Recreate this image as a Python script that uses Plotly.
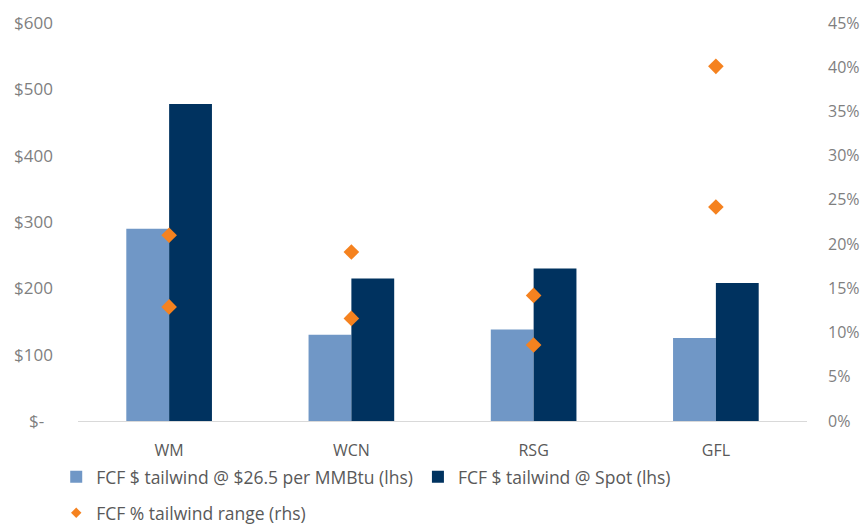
import plotly.graph_objects as go

categories = ["WM", "WCN", "RSG", "GFL"]
fcf_265 = [290, 130, 138, 125]
fcf_spot = [478, 215, 230, 208]
pct_x = ["WM", "WM", "WCN", "WCN", "RSG", "RSG", "GFL", "GFL"]
pct_vals = [21.0, 12.9, 19.1, 11.6, 14.2, 8.6, 40.1, 24.2]

left_tickvals = [0, 100, 200, 300, 400, 500, 600]
left_ticktext = ["$-\u00a0\u00a0", "$100", "$200", "$300", "$400", "$500", "$600"]
right_tickvals = [0, 5, 10, 15, 20, 25, 30, 35, 40, 45]
right_ticktext = [f"{v}%" for v in right_tickvals]

FONT = "Open Sans"
TICK_COLOR = "#7f7f7f"
TEXT_COLOR = "#595959"
ORANGE = "#f5821f"

fig = go.Figure()
fig.add_trace(go.Bar(
    x=categories, y=fcf_265, name="FCF $ tailwind @ $26.5 per MMBtu (lhs)",
    marker=dict(color="#7097c6", line=dict(width=0)), legend="legend",
))
fig.add_trace(go.Bar(
    x=categories, y=fcf_spot, name="FCF $ tailwind @ Spot (lhs)",
    marker=dict(color="#00325f", line=dict(width=0)), legend="legend",
))
fig.add_trace(go.Scatter(
    x=pct_x, y=pct_vals, yaxis="y2", mode="markers",
    name="FCF % tailwind range (rhs)",
    marker=dict(symbol="diamond", size=12, color=ORANGE),
    showlegend=False,
))
# legend-only entry with a smaller diamond symbol
fig.add_trace(go.Scatter(
    x=[None], y=[None], yaxis="y2", mode="markers",
    name="FCF % tailwind range (rhs)",
    marker=dict(symbol="diamond", size=8, color=ORANGE),
    legend="legend2", showlegend=True,
))

fig.update_layout(
    width=865, height=527,
    margin=dict(l=78, r=58, t=23, b=106, autoexpand=False),
    paper_bgcolor="white", plot_bgcolor="white",
    font=dict(family=FONT, size=16, color=TEXT_COLOR),
    barmode="group", bargap=0.53, bargroupgap=0,
    showlegend=True,
    xaxis=dict(
        showgrid=False, showline=True, linecolor="#d9d9d9", linewidth=1,
        ticks="", tickfont=dict(size=16, color=TEXT_COLOR),
        ticklabelstandoff=15, zeroline=False,
    ),
    yaxis=dict(
        range=[0, 600], tickvals=left_tickvals, ticktext=left_ticktext,
        showgrid=False, zeroline=False, showline=False, ticks="",
        tickfont=dict(size=17, color=TICK_COLOR), ticklabelstandoff=24,
    ),
    yaxis2=dict(
        range=[0, 45], tickvals=right_tickvals, ticktext=right_ticktext,
        overlaying="y", side="right", showgrid=False, zeroline=False,
        showline=False, ticks="",
        tickfont=dict(size=16, color=TICK_COLOR), ticklabelstandoff=20,
    ),
    legend=dict(
        orientation="h", xref="container", x=0.065, xanchor="left",
        y=-0.1407, yanchor="middle",
        font=dict(size=17.5, color=TEXT_COLOR), bgcolor="rgba(0,0,0,0)",
        traceorder="normal",
    ),
    legend2=dict(
        orientation="h", xref="container", x=0.065, xanchor="left",
        y=-0.231, yanchor="middle",
        font=dict(size=17.5, color=TEXT_COLOR), bgcolor="rgba(0,0,0,0)",
    ),
)

fig.write_html("out.html")
